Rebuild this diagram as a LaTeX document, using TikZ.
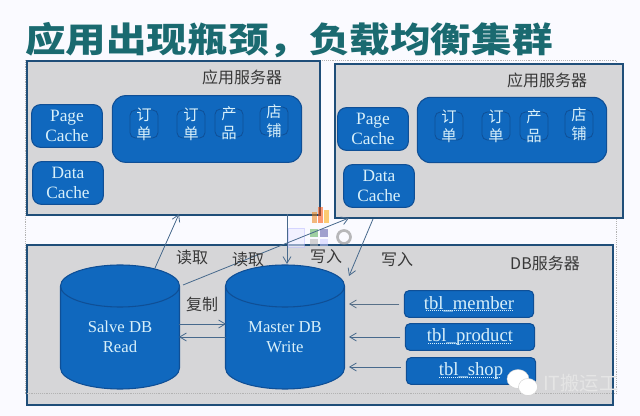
\documentclass[tikz,border=0pt]{standalone}
\usepackage{fontspec}
\setmainfont{Liberation Serif}
\newfontfamily\cjk{Noto Sans CJK SC}
\usetikzlibrary{arrows.meta}
\definecolor{panelfill}{HTML}{D6D6D8}
\definecolor{paneledge}{HTML}{1F4E79}
\definecolor{bluefill}{HTML}{1068BE}
\definecolor{blueedge}{HTML}{0F4F96}
\definecolor{textlight}{HTML}{D8F0FA}
\definecolor{titlecol}{HTML}{1A6A70}
\definecolor{arrowcol}{HTML}{47698C}
\tikzset{
  panel/.style={draw=paneledge,line width=1.3pt,fill=panelfill,anchor=north west,inner sep=0pt},
  cachebox/.style={draw=blueedge,line width=.8pt,fill=bluefill,rounded corners=6.5pt,text=textlight,align=center,font=\fontsize{13pt}{14.5pt}\selectfont,inner sep=0pt,minimum width=53pt,minimum height=32pt},
  appbox/.style={draw=blueedge,line width=.8pt,fill=bluefill,rounded corners=10pt,inner sep=0pt},
  itembox/.style={draw=blueedge,line width=.6pt,fill=bluefill,rounded corners=4pt,minimum width=21pt,minimum height=21pt,inner sep=0pt},
  itemtext/.style={text=textlight,font=\cjk\fontsize{11.5pt}{14pt}\selectfont,align=center,inner sep=0pt},
  lab/.style={text=black!78,font=\cjk\fontsize{12pt}{13pt}\selectfont,inner sep=0pt},
  tblbox/.style={draw=blueedge,line width=.8pt,fill=bluefill,rounded corners=3.5pt,inner sep=0pt,minimum width=97pt,minimum height=20pt,text=textlight,font=\fontsize{14pt}{14pt}\selectfont},
  dbtext/.style={text=textlight,align=center,font=\fontsize{12.5pt}{15pt}\selectfont,inner sep=0pt},
  conn/.style={draw=arrowcol,line width=.6pt,-{Straight Barb[length=5pt,width=6pt]}},
  squiggle/.style={draw=textlight,line width=.5pt,densely dotted},
  bubble/.style={fill=white,draw=gray!40,line width=.3pt},
}
\newcommand{\cyl}[4]{% cx, top-y, rx, bottom-y (px coordinates)
  \fill[bluefill] (#1-#3,-#2) -- (#1-#3,-#4) arc[start angle=180,end angle=360,x radius=#3,y radius=21] -- (#1+#3,-#2) arc[start angle=0,end angle=180,x radius=#3,y radius=21] -- cycle;
  \draw[blueedge,line width=.8pt] (#1-#3,-#2) -- (#1-#3,-#4) arc[start angle=180,end angle=360,x radius=#3,y radius=21] -- (#1+#3,-#2) arc[start angle=0,end angle=360,x radius=#3,y radius=21];
}
\begin{document}
\begin{tikzpicture}[x=.75pt,y=.75pt]
\useasboundingbox (0,0) rectangle (640,-416);
\fill[white!98!blue] (0,0) rectangle (640,-416);
% title
\node[text=titlecol,font=\cjk\fontsize{26pt}{28pt}\bfseries\selectfont,anchor=west,inner sep=0pt,xscale=1.17,transform shape] (title) at (25,-40) {应用出现瓶颈，负载均衡集群};
% frame
\draw[gray!60,densely dotted,line width=.4pt] (25,-60) rectangle (616.5,-393);
% left app server
\node[panel,minimum width=219.75pt,minimum height=115.5pt] (app1) at (26,-60) {};
\node[lab] (app1t) at (242,-77) {应用服务器};
\node[cachebox] (pc1) at (67,-126) {Page\\Cache};
\node[cachebox] (dc1) at (68,-183) {Data\\Cache};
\node[appbox,minimum width=142pt,minimum height=50pt] (ab1) at (207,-129) {};
\node[itembox] (i11) at (144,-124) {}; \node[itemtext] at (144,-124) {订\\单};
\node[itembox] (i12) at (191,-124) {}; \node[itemtext] at (191,-124) {订\\单};
\node[itembox] (i13) at (229,-123) {}; \node[itemtext] at (229,-123) {产\\品};
\node[itembox] (i14) at (274,-121) {}; \node[itemtext] at (274,-121) {店\\铺};
% right app server
\node[panel,minimum width=216pt,minimum height=115.5pt] (app2) at (334,-63) {};
\node[lab] (app2t) at (547,-80) {应用服务器};
\node[cachebox] (pc2) at (373,-129) {Page\\Cache};
\node[cachebox] (dc2) at (379,-186) {Data\\Cache};
\node[appbox,minimum width=142pt,minimum height=49pt] (ab2) at (512,-130) {};
\node[itembox] (i21) at (449,-126) {}; \node[itemtext] at (449,-126) {订\\单};
\node[itembox] (i22) at (496,-126) {}; \node[itemtext] at (496,-126) {订\\单};
\node[itembox] (i23) at (534,-126) {}; \node[itemtext] at (534,-126) {产\\品};
\node[itembox] (i24) at (579,-124) {}; \node[itemtext] at (579,-124) {店\\铺};
% db server
\node[panel,minimum width=439.5pt,minimum height=120pt] (db) at (26,-244) {};
\node[lab] (dbt) at (545,-263) {DB服务器};
\draw[gray!60,densely dotted,line width=.4pt] (25,-393) -- (612,-393);
% faint image-host icons
\begin{scope}[opacity=.55]
\fill[orange!70!brown] (312,-212) rectangle (317,-223);
\fill[orange!60!red] (318,-207) rectangle (323,-223);
\fill[orange!70!yellow] (324,-210) rectangle (329,-223);
\draw[blue!25,fill=blue!8,line width=.5pt] (288,-228) rectangle (304,-247);
\fill[green!35!gray] (310,-229) rectangle (318,-237);
\fill[blue!30!gray] (320,-229) rectangle (328,-237);
\fill[gray!60] (310,-239) rectangle (318,-246);
\fill[blue!20] (320,-239) rectangle (328,-246);
\draw[gray,line width=2pt] (344,-237) circle [radius=6.5];
\end{scope}
% cylinders
\cyl{120}{286}{59.5}{368}
\cyl{285}{286}{59.5}{368}
\node[dbtext] (s) at (120,-337) {Salve DB\\Read};
\node[dbtext] (m) at (285,-337) {Master DB\\Write};
\coordinate (sTop) at (155,-268);
\coordinate (sRight) at (183,-285);
\coordinate (sE1) at (179,-324);
\coordinate (sE2) at (179,-337);
\coordinate (mW1) at (226,-324);
\coordinate (mW2) at (226,-337);
\coordinate (mTop) at (287,-264);
\coordinate (mTR) at (349,-276);
\coordinate (a1) at (179,-214);
\coordinate (a2) at (349,-218);
\coordinate (a3) at (287,-214);
\coordinate (a4) at (373,-219);
\draw[conn] (sTop) -- (a1);
\draw[conn] (sRight) -- (a2);
\draw[conn] (a3) -- (mTop);
\draw[conn] (a4) -- (mTR);
\draw[conn] (sE1) -- (mW1);
\draw[conn] (mW2) -- (sE2);
\node[lab] at (192,-257) {读取};
\node[lab] at (248,-259) {读取};
\node[lab] at (326,-257) {写入};
\node[lab] at (397,-260) {写入};
\node[lab] at (202,-304) {复制};
% tables
\node[tblbox] (t1) at (469,-304) {tbl\_member};
\node[tblbox] (t2) at (470,-337) {tbl\_product};
\node[tblbox] (t3) at (471,-371) {tbl\_shop};
\draw[squiggle] (426,-310) -- (513,-310);
\draw[squiggle] (428,-343) -- (512,-343);
\draw[squiggle] (439,-377) -- (500,-377);
\draw[conn,draw=arrowcol!70!gray] (t1.west)++(-4.5,0) coordinate (t1w) -- (349,-304);
\draw[conn] (t2.west)++(-4.5,0) coordinate (t2w) -- (349,-337);
\draw[conn] (t3.west)++(-5,4) coordinate (t3w) -- (349,-367);
% watermark
\path[bubble] (518,-379) ellipse [x radius=11,y radius=9.5];
\path[bubble] (528,-387) ellipse [x radius=9.5,y radius=8.5];
\node[text=white!90!black,font=\cjk\fontsize{14.5pt}{17pt}\selectfont,anchor=west,inner sep=0pt] (wm) at (543,-383) {IT搬运工};
\end{tikzpicture}
\end{document}
